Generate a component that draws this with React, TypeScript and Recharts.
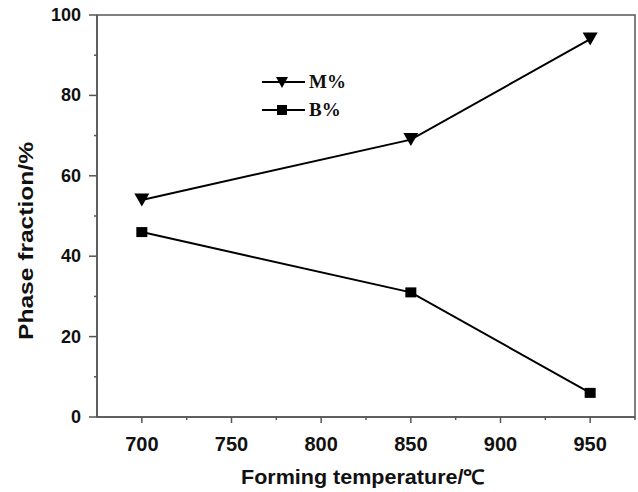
import React from 'react';
import { LineChart, Line, XAxis, YAxis, ReferenceArea, Legend } from 'recharts';

const temperatures = [700, 850, 950];
const mValues = [54, 69, 94];
const bValues = [46, 31, 6];
const xTicks = [700, 725, 750, 775, 800, 825, 850, 875, 900, 925, 950, 975];
const xMajor = [700, 750, 800, 850, 900, 950];
const yTicks = [0, 10, 20, 30, 40, 50, 60, 70, 80, 90, 100];
const yMajor = [0, 20, 40, 60, 80, 100];
const seriesOrder = ['M', 'B'];

const data = temperatures.map((t, i) => ({ t, M: mValues[i], B: bValues[i] }));

const AXIS = '#555';
const FONT = '"Liberation Sans", Arial, sans-serif';

const Tri = (props: any) => {
  const { cx, cy } = props;
  if (cx == null || cy == null) return null;
  return <polygon points={`${cx - 7.5},${cy - 6.5} ${cx + 7.5},${cy - 6.5} ${cx},${cy + 6.5}`} fill="#000" />;
};
const Sq = (props: any) => {
  const { cx, cy } = props;
  if (cx == null || cy == null) return null;
  return <rect x={cx - 5.5} y={cy - 5} width={11} height={10} fill="#000" />;
};

const XTick = (props: any) => {
  const { x, y, payload } = props;
  const major = xMajor.includes(payload.value);
  return (
    <g>
      <line x1={x} y1={y} x2={x} y2={y + (major ? 6 : 3)} stroke={AXIS} strokeWidth={1.5} />
      {major && (
        <text x={x} y={y + 34} textAnchor="middle" fontFamily={FONT} fontWeight="bold" fontSize={20} fill="#111">
          {payload.value}
        </text>
      )}
    </g>
  );
};

const YTick = (props: any) => {
  const { x, y, payload } = props;
  const major = yMajor.includes(payload.value);
  return (
    <g>
      <line x1={x} y1={y} x2={x - (major ? 8 : 3)} y2={y} stroke={AXIS} strokeWidth={1.5} />
      {major && (
        <text x={x - 16} y={y + 6} textAnchor="end" fontFamily={FONT} fontWeight="bold" fontSize={18} fill="#111">
          {payload.value}
        </text>
      )}
    </g>
  );
};

const LegendContent = (props: any) => {
  const items = [...(props.payload || [])].sort(
    (a: any, b: any) => seriesOrder.indexOf(a.dataKey) - seriesOrder.indexOf(b.dataKey)
  );
  return (
    <div>
      {items.map((it: any, i: number) => (
        <div key={i} style={{ display: 'flex', alignItems: 'center', height: 28 }}>
          <svg width={47} height={16}>
            <line x1={0} y1={8} x2={43} y2={8} stroke="#000" strokeWidth={2} />
            {it.dataKey === 'M' ? (
              <polygon points="14,3 26,3 20,14" fill="#000" />
            ) : (
              <rect x={15} y={3} width={10} height={10} fill="#000" />
            )}
          </svg>
          <span style={{ fontFamily: '"Liberation Serif", "Times New Roman", serif', fontWeight: 'bold', fontSize: 19, color: '#111' }}>
            {it.value}
          </span>
        </div>
      ))}
    </div>
  );
};

export default function App() {
  return (
    <div style={{ position: 'absolute', left: 0, top: 0, background: '#fff' }}>
      <LineChart width={638} height={492} data={data} margin={{ top: 15, right: 3, bottom: 0, left: 0 }}>
        <ReferenceArea x1={675} x2={975} y1={0} y2={100} fill="none" stroke={AXIS} strokeWidth={1.5} ifOverflow="visible" />
        <XAxis
          dataKey="t"
          type="number"
          domain={[675, 975]}
          ticks={xTicks}
          interval={0}
          height={75}
          tickSize={0}
          tickMargin={0}
          tickLine={false}
          stroke={AXIS}
          strokeWidth={1.5}
          tick={<XTick />}
          label={{
            content: () => (
              <text x={363} y={484} textAnchor="middle" fontFamily={FONT} fontWeight="bold" fontSize={20} fill="#111" textLength={244} lengthAdjust="spacingAndGlyphs">
                Forming temperature/℃
              </text>
            ),
          }}
        />
        <YAxis
          type="number"
          domain={[0, 100]}
          ticks={yTicks}
          interval={0}
          width={97}
          tickSize={0}
          tickMargin={0}
          tickLine={false}
          stroke={AXIS}
          strokeWidth={1.5}
          tick={<YTick />}
          label={{
            content: () => (
              <text x={33} y={241} transform="rotate(-90 33 241)" textAnchor="middle" fontFamily={FONT} fontWeight="bold" fontSize={21} fill="#111" textLength={198} lengthAdjust="spacingAndGlyphs">
                Phase fraction/%
              </text>
            ),
          }}
        />
        <Legend
          content={<LegendContent />}
          layout="horizontal"
          verticalAlign="middle"
          align="center"
          wrapperStyle={{ position: 'absolute', left: 262, top: 68, width: 120 }}
        />
        <Line dataKey="M" name="M%" stroke="#000" strokeWidth={2} dot={<Tri />} activeDot={false} isAnimationActive={false} />
        <Line dataKey="B" name="B%" stroke="#000" strokeWidth={2} dot={<Sq />} activeDot={false} isAnimationActive={false} />
      </LineChart>
    </div>
  );
}
